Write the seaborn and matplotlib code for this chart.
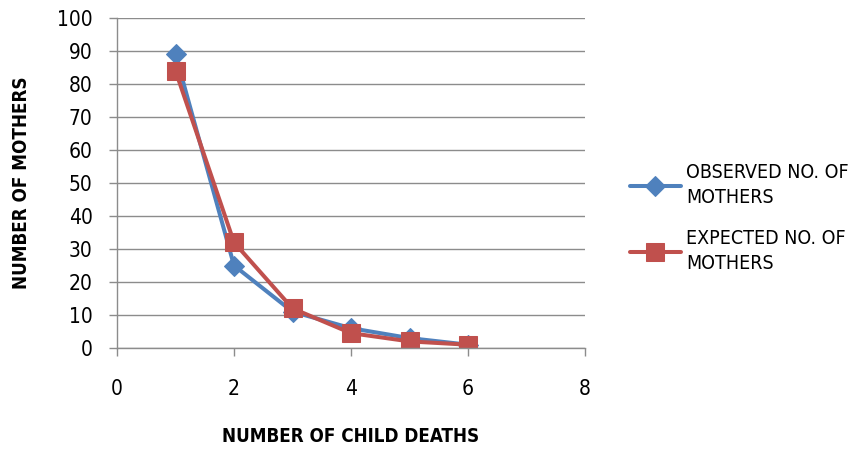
import matplotlib
matplotlib.use("Agg")
import matplotlib.pyplot as plt
import seaborn as sns
import pandas as pd

child_deaths = [1, 2, 3, 4, 5, 6]
observed = [89, 25, 11, 6, 3, 1]
expected = [84, 32, 12, 4.5, 2, 1]
series_names = ["OBSERVED NO. OF\nMOTHERS", "EXPECTED NO. OF\nMOTHERS"]

df = pd.DataFrame({
    "x": child_deaths * 2,
    "y": observed + expected,
    "series": [series_names[0]] * 6 + [series_names[1]] * 6,
})

sns.set_theme(style="white")
plt.rcParams["font.family"] = ["DejaVu Sans", "Liberation Sans"]
plt.rcParams["font.stretch"] = "condensed"
plt.rcParams["text.color"] = "black"
plt.rcParams["axes.labelcolor"] = "black"

fig = plt.figure(figsize=(8.59, 4.51), dpi=100)
ax = fig.add_axes([117 / 859, 1 - 348 / 451, (585 - 117) / 859, (348 - 18) / 451])

palette = {series_names[0]: "#4F81BD", series_names[1]: "#C0504D"}
markers = {series_names[0]: "D", series_names[1]: "s"}
sizes = {series_names[0]: 10, series_names[1]: 13.5}

for name in series_names:
    sub = df[df["series"] == name]
    sns.lineplot(data=sub, x="x", y="y", ax=ax, color=palette[name], marker=markers[name],
                 markersize=sizes[name], markeredgecolor=palette[name], linewidth=2.9,
                 label=name)

ax.set_xlim(0, 8)
ax.set_ylim(0, 100)
ax.set_xticks([0, 2, 4, 6, 8])
ax.set_yticks(range(0, 101, 10))
ax.yaxis.grid(True, color="#8c8c8c", linewidth=1)
ax.xaxis.grid(False)
for s in ["top", "right"]:
    ax.spines[s].set_visible(False)
for s in ["left", "bottom"]:
    ax.spines[s].set_color("#8c8c8c")
    ax.spines[s].set_linewidth(1)
ax.tick_params(axis="both", which="both", length=5.5, width=1, color="#8c8c8c",
               labelsize=15, labelcolor="black", direction="out", bottom=True, left=True)
ax.tick_params(axis="x", pad=17)
ax.tick_params(axis="y", pad=12)
ax.set_xlabel("NUMBER OF CHILD DEATHS", fontsize=13.5, fontweight="bold", labelpad=20)
ax.set_ylabel("NUMBER OF MOTHERS", fontsize=13.5, fontweight="bold", labelpad=19)

leg = ax.legend(loc="center left", bbox_to_anchor=((630 - 117) / 468, (348 - 218) / 330),
                frameon=False, borderpad=0, borderaxespad=0,
                fontsize=14, handlelength=2.6, labelspacing=1.1, handletextpad=0.28)
for t in leg.get_texts():
    t.set_linespacing(1.45)

fig.savefig("out.png", dpi=100)
